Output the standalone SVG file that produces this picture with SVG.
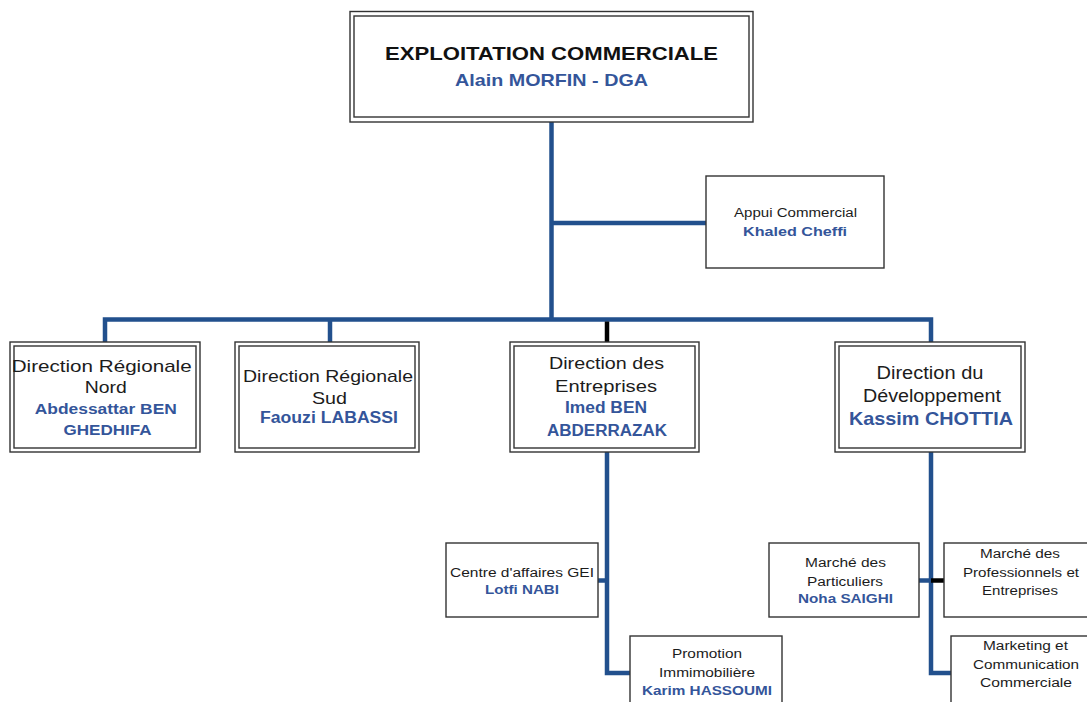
<svg xmlns="http://www.w3.org/2000/svg" width="1087" height="702" viewBox="0 0 1087 702">
  <style>
    text { font-family: "Liberation Sans", Arial, sans-serif; text-anchor: middle; fill: #1c1c1c; }
    .nm { font-weight: bold; fill: #34559a; }
    .tt { font-weight: bold; fill: #111; }
    .sm { font-size: 12.5px; }
    .box { fill: #fff; stroke: #333; stroke-width: 1.4; }
    .link { fill: none; stroke: #22508d; stroke-width: 4.5; stroke-linejoin: miter; stroke-linecap: butt; }
    .link-k { fill: none; stroke: #000; stroke-width: 4.5; }
  </style>
  <rect width="1087" height="702" fill="#fff"/>

  <g id="connectors">
    <path class="link" d="M551.5,122 V319.5"/>
    <path class="link" d="M551.5,223 H706"/>
    <path class="link" d="M105,342 V319.5 H931 V342"/>
    <path class="link" d="M330,319.5 V342"/>
    <path class="link-k" d="M607,321.5 V342"/>
    <path class="link" d="M607,452 V673 H631"/>
    <path class="link" d="M598,580.5 H607"/>
    <path class="link" d="M931,452 V673 H951"/>
    <path class="link" d="M919,580.5 H931"/>
    <path class="link-k" d="M931,580.5 H944"/>
  </g>

  <g id="exploitation">
    <rect class="box" x="350" y="11.5" width="403" height="110.5"/>
    <rect class="box" x="354" y="16" width="395" height="101"/>
    <text class="tt" x="551.5" y="60" font-size="19" textLength="333" lengthAdjust="spacingAndGlyphs">EXPLOITATION COMMERCIALE</text>
    <text class="nm" x="551.5" y="85.5" font-size="17" textLength="193" lengthAdjust="spacingAndGlyphs">Alain MORFIN - DGA</text>
  </g>

  <g id="appui">
    <rect class="box" x="706" y="176" width="178" height="92"/>
    <text class="sm" x="795.5" y="217.3" textLength="123" lengthAdjust="spacingAndGlyphs">Appui Commercial</text>
    <text class="nm sm" x="795" y="236" textLength="104" lengthAdjust="spacingAndGlyphs">Khaled Cheffi</text>
  </g>

  <g id="dr-nord">
    <rect class="box" x="10" y="342" width="190" height="110"/>
    <rect class="box" x="14" y="346" width="182" height="102"/>
    <text x="101.7" y="371.7" font-size="17" textLength="180" lengthAdjust="spacingAndGlyphs">Direction Régionale</text>
    <text x="105.8" y="393.3" font-size="17" textLength="42" lengthAdjust="spacingAndGlyphs">Nord</text>
    <text class="nm" x="105.8" y="414.3" font-size="14.5" textLength="142" lengthAdjust="spacingAndGlyphs">Abdessattar BEN</text>
    <text class="nm" x="107.5" y="435" font-size="14.5" textLength="88" lengthAdjust="spacingAndGlyphs">GHEDHIFA</text>
  </g>

  <g id="dr-sud">
    <rect class="box" x="235" y="342" width="184" height="110"/>
    <rect class="box" x="239" y="346" width="176" height="102"/>
    <text x="328" y="381.7" font-size="17" textLength="170" lengthAdjust="spacingAndGlyphs">Direction Régionale</text>
    <text x="329.5" y="404" font-size="17" textLength="35" lengthAdjust="spacingAndGlyphs">Sud</text>
    <text class="nm" x="329" y="423.3" font-size="16" textLength="138" lengthAdjust="spacingAndGlyphs">Faouzi LABASSI</text>
  </g>

  <g id="dir-entreprises">
    <rect class="box" x="510" y="342" width="189" height="110"/>
    <rect class="box" x="514" y="346" width="181" height="102"/>
    <text x="606.5" y="369.3" font-size="17" textLength="115" lengthAdjust="spacingAndGlyphs">Direction des</text>
    <text x="606" y="392" font-size="17" textLength="102" lengthAdjust="spacingAndGlyphs">Entreprises</text>
    <text class="nm" x="606" y="412.7" font-size="16" textLength="82" lengthAdjust="spacingAndGlyphs">Imed BEN</text>
    <text class="nm" x="607" y="436" font-size="16" textLength="120" lengthAdjust="spacingAndGlyphs">ABDERRAZAK</text>
  </g>

  <g id="dir-developpement">
    <rect class="box" x="835" y="342" width="190" height="110"/>
    <rect class="box" x="839" y="346" width="182" height="102"/>
    <text x="930" y="379.3" font-size="17.5" textLength="107" lengthAdjust="spacingAndGlyphs">Direction du</text>
    <text x="932" y="401.7" font-size="17.5" textLength="138" lengthAdjust="spacingAndGlyphs">Développement</text>
    <text class="nm" x="931" y="425" font-size="18.5" textLength="164" lengthAdjust="spacingAndGlyphs">Kassim CHOTTIA</text>
  </g>

  <g id="centre-affaires">
    <rect class="box" x="446" y="543" width="152" height="74"/>
    <text class="sm" x="522" y="576.7" textLength="144" lengthAdjust="spacingAndGlyphs">Centre d'affaires GEI</text>
    <text class="nm sm" x="522" y="594.3" textLength="74" lengthAdjust="spacingAndGlyphs">Lotfi NABI</text>
  </g>

  <g id="promotion">
    <rect class="box" x="630" y="636" width="152" height="80"/>
    <text class="sm" x="707" y="658.3" textLength="70" lengthAdjust="spacingAndGlyphs">Promotion</text>
    <text class="sm" x="707" y="677.3" textLength="96" lengthAdjust="spacingAndGlyphs">Immimobilière</text>
    <text class="nm sm" x="707" y="695" textLength="130" lengthAdjust="spacingAndGlyphs">Karim HASSOUMI</text>
  </g>

  <g id="particuliers">
    <rect class="box" x="769" y="543" width="150" height="74"/>
    <text class="sm" x="845.5" y="566.7" textLength="81" lengthAdjust="spacingAndGlyphs">Marché des</text>
    <text class="sm" x="845" y="585.7" textLength="76" lengthAdjust="spacingAndGlyphs">Particuliers</text>
    <text class="nm sm" x="845.5" y="602.7" textLength="95" lengthAdjust="spacingAndGlyphs">Noha SAIGHI</text>
  </g>

  <g id="professionnels">
    <rect class="box" x="944" y="543" width="160" height="74"/>
    <text class="sm" x="1020" y="558.3" textLength="80" lengthAdjust="spacingAndGlyphs">Marché des</text>
    <text class="sm" x="1021" y="577.3" textLength="116" lengthAdjust="spacingAndGlyphs">Professionnels et</text>
    <text class="sm" x="1020" y="595" textLength="76" lengthAdjust="spacingAndGlyphs">Entreprises</text>
  </g>

  <g id="marketing">
    <rect class="box" x="951" y="636" width="160" height="80"/>
    <text class="sm" x="1025.5" y="650" textLength="85" lengthAdjust="spacingAndGlyphs">Marketing et</text>
    <text class="sm" x="1026" y="669.3" textLength="106" lengthAdjust="spacingAndGlyphs">Communication</text>
    <text class="sm" x="1026" y="687.3" textLength="92" lengthAdjust="spacingAndGlyphs">Commerciale</text>
  </g>
</svg>
